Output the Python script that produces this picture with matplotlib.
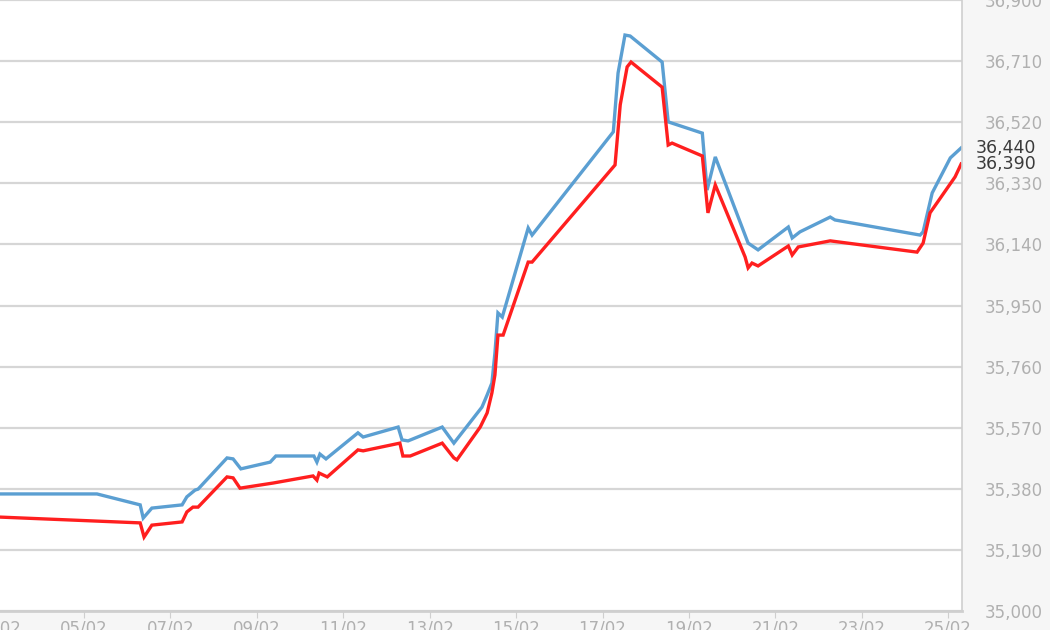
import matplotlib
matplotlib.use("Agg")
import matplotlib.pyplot as plt
import matplotlib.transforms as mtransforms

# day of February (fractional) and price for the two series
blue_days = [3.06, 5.30, 6.30, 6.37, 6.57, 7.27, 7.38, 7.57, 7.64, 8.31, 8.45, 8.63,
             9.31, 9.44, 10.32, 10.39, 10.46, 10.60, 11.34, 11.46, 12.27, 12.36, 12.50,
             13.29, 13.56, 14.21, 14.33, 14.44, 14.51, 14.58, 14.68, 15.28, 15.37,
             17.25, 17.36, 17.52, 17.64, 18.38, 18.52, 19.31, 19.42, 19.61, 20.37,
             20.60, 21.30, 21.39, 21.57, 22.27, 22.38, 24.35, 24.42, 24.63, 25.05, 25.30]
blue_vals = [35364, 35364, 35330, 35289, 35320, 35330, 35355, 35376, 35379, 35476, 35473, 35442,
             35463, 35482, 35482, 35463, 35488, 35473, 35554, 35541, 35572, 35532, 35529,
             35572, 35522, 35634, 35672, 35709, 35802, 35927, 35914, 36191, 36169,
             36490, 36673, 36791, 36788, 36707, 36521, 36486, 36309, 36412, 36144,
             36123, 36194, 36160, 36179, 36225, 36216, 36169, 36179, 36300, 36409, 36440]

red_days = [3.06, 6.30, 6.39, 6.57, 7.27, 7.38, 7.52, 7.64, 8.31, 8.45, 8.61, 9.38,
            10.30, 10.39, 10.44, 10.63, 11.34, 11.46, 12.31, 12.38, 12.55, 13.29, 13.56,
            13.63, 14.17, 14.33, 14.44, 14.51, 14.58, 14.70, 15.28, 15.37, 17.29, 17.41,
            17.57, 17.66, 18.38, 18.52, 18.61, 19.31, 19.44, 19.61, 20.30, 20.37, 20.46,
            20.60, 21.30, 21.39, 21.53, 22.27, 24.28, 24.42, 24.58, 25.16, 25.30]
red_vals = [35292, 35274, 35230, 35267, 35277, 35308, 35323, 35323, 35417, 35414, 35382, 35398,
            35420, 35407, 35429, 35417, 35501, 35498, 35522, 35482, 35482, 35522, 35476,
            35470, 35572, 35616, 35678, 35734, 35858, 35858, 36085, 36085, 36387, 36574,
            36692, 36707, 36629, 36449, 36455, 36415, 36238, 36325, 36101, 36067, 36082,
            36073, 36135, 36107, 36132, 36151, 36116, 36144, 36238, 36350, 36390]

tick_days = [3, 5, 7, 9, 11, 13, 15, 17, 19, 21, 23, 25]
tick_labels = ["03/02", "05/02", "07/02", "09/02", "11/02", "13/02", "15/02",
               "17/02", "19/02", "21/02", "23/02", "25/02"]
y_ticks = [35000, 35190, 35380, 35570, 35760, 35950, 36140, 36330, 36520, 36710, 36900]

fig = plt.figure(figsize=(10.5, 6.3), dpi=100, facecolor="#f6f6f6")
ax = fig.add_axes([-2.4 / 1050, 19 / 630, 964.4 / 1050, 611 / 630])
ax.set_facecolor("white")

ax.plot(blue_days, blue_vals, color="#5b9fd2", lw=2.4, solid_joinstyle="miter")
ax.plot(red_days, red_vals, color="#ff1f1f", lw=2.4, solid_joinstyle="miter")

ax.set_xlim(3.0, 25.32)
ax.set_ylim(35000, 36900)
ax.set_xticks(tick_days)
ax.set_xticklabels(tick_labels)
ax.set_yticks(y_ticks)
ax.set_yticklabels([f"{v:,}" for v in y_ticks])

ax.yaxis.tick_right()
ax.grid(axis="y", color="#d6d6d6", lw=1.6)
ax.set_axisbelow(True)
for s in ["left", "top"]:
    ax.spines[s].set_visible(False)
ax.spines["right"].set_color("#cfcfcf")
ax.spines["right"].set_linewidth(1.2)
ax.spines["bottom"].set_color("#cfcfcf")
ax.spines["bottom"].set_linewidth(2)

ax.tick_params(axis="y", length=0, pad=16, labelsize=12, labelcolor="#b0b0b0")
ax.tick_params(axis="x", length=5, color="#cfcfcf", pad=1, labelsize=12, labelcolor="#b0b0b0")

trans = mtransforms.blended_transform_factory(ax.transAxes, ax.transData)
ax.text(1.014, blue_vals[-1], f"{blue_vals[-1]:,}", transform=trans, va="center",
        ha="left", fontsize=12.5, color="#3a3a3a", clip_on=False)
ax.text(1.014, red_vals[-1], f"{red_vals[-1]:,}", transform=trans, va="center",
        ha="left", fontsize=12.5, color="#3a3a3a", clip_on=False)

fig.savefig("out.png", dpi=100, facecolor=fig.get_facecolor())
